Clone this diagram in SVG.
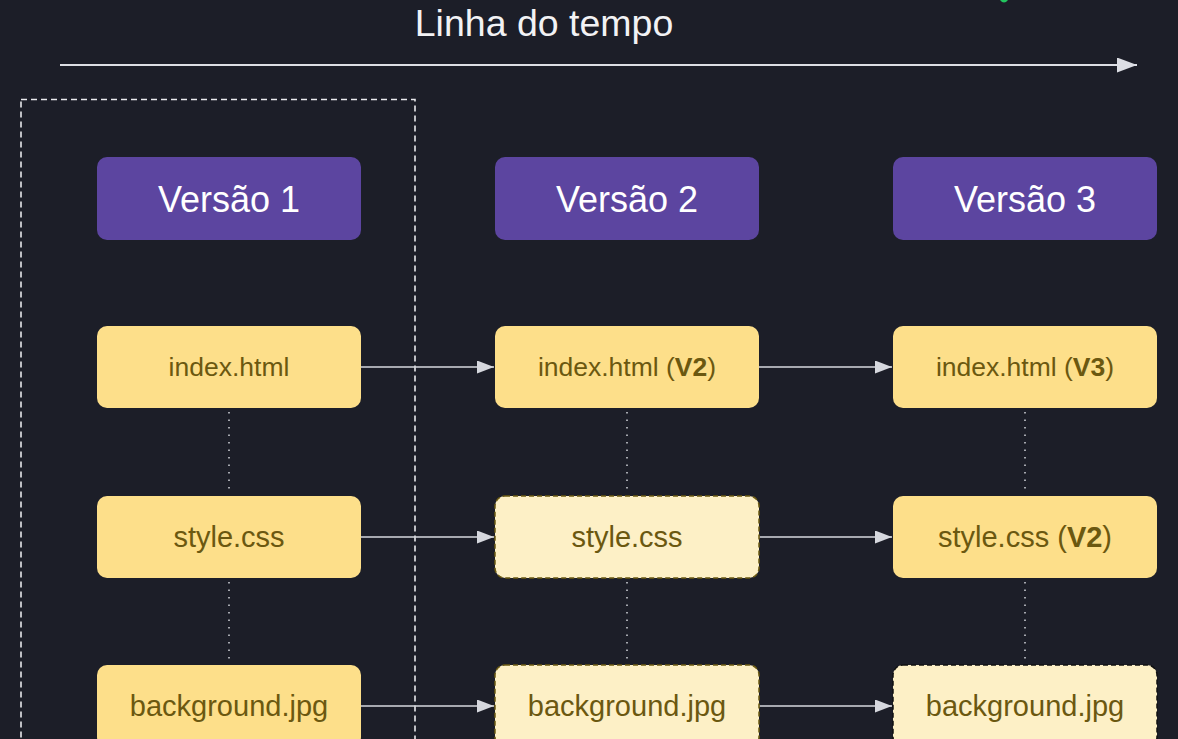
<svg xmlns="http://www.w3.org/2000/svg" width="1178" height="739" viewBox="0 0 1178 739">
<defs>
<marker id="ah" markerWidth="17" markerHeight="13" refX="17" refY="6.5" orient="auto" markerUnits="userSpaceOnUse" viewBox="0 0 17 13">
<path d="M0,0 L17,6.5 L0,13 z" fill="#d6d8de"/>
</marker>
<marker id="ahbig" markerWidth="20" markerHeight="15" refX="20" refY="7.5" orient="auto" markerUnits="userSpaceOnUse" viewBox="0 0 20 15">
<path d="M0,0 L20,7.5 L0,15 z" fill="#dcdee4"/>
</marker>
<style>
.ver{fill:#5c45a0;}
.vt{font-family:"Liberation Sans",Arial,sans-serif;font-size:36px;fill:#ffffff;text-anchor:middle;}
.file{fill:#fddf8a;}
.ghost{fill:#fdf0c6;stroke:#6b5a12;stroke-width:1.5;stroke-dasharray:5 3;}
.ghostk{fill:#fdf0c6;stroke:#111111;stroke-width:1.5;stroke-dasharray:5 3;}
.ft{font-family:"Liberation Sans",Arial,sans-serif;font-size:29px;fill:#6b5810;text-anchor:middle;}
.fts{font-family:"Liberation Sans",Arial,sans-serif;font-size:26.5px;fill:#6b5810;text-anchor:middle;}
.conn{stroke:#d6d8de;stroke-width:1.6;fill:none;marker-end:url(#ah);}
.dot{stroke:#c8cad0;stroke-width:1.6;stroke-dasharray:1.5 6;fill:none;}
</style>
</defs>
<rect x="0" y="0" width="1178" height="739" fill="#1c1e28"/>
<path d="M1000,0 Q1004,5 1008,0 z" fill="#22c55e"/>
<g id="timeline">
<text x="544" y="36" font-family="'Liberation Sans',Arial,sans-serif" font-size="37.5" fill="#f2f2f4" text-anchor="middle">Linha do tempo</text>
<line x1="60" y1="65" x2="1137" y2="65" stroke="#dcdee4" stroke-width="2" marker-end="url(#ahbig)"/>
</g>
<rect id="group-v1" x="21" y="99.5" width="394" height="660" fill="none" stroke="#e8e8ec" stroke-width="1.6" stroke-dasharray="6 4"/>
<g id="connectors">
<line class="dot" x1="229" y1="412" x2="229" y2="494"/>
<line class="dot" x1="229" y1="582" x2="229" y2="663"/>
<line class="dot" x1="627" y1="412" x2="627" y2="494"/>
<line class="dot" x1="627" y1="582" x2="627" y2="663"/>
<line class="dot" x1="1025" y1="412" x2="1025" y2="494"/>
<line class="dot" x1="1025" y1="582" x2="1025" y2="663"/>
<line class="conn" x1="361" y1="367" x2="494" y2="367"/>
<line class="conn" x1="759" y1="367" x2="892" y2="367"/>
<line class="conn" x1="361" y1="537" x2="494" y2="537"/>
<line class="conn" x1="759" y1="537" x2="892" y2="537"/>
<line class="conn" x1="361" y1="706" x2="494" y2="706"/>
<line class="conn" x1="759" y1="706" x2="892" y2="706"/>
</g>
<g id="v1"><rect class="ver" x="97" y="157" width="264" height="83" rx="10"/><text class="vt" x="229" y="212">Versão 1</text></g>
<g id="v2"><rect class="ver" x="495" y="157" width="264" height="83" rx="10"/><text class="vt" x="627" y="212">Versão 2</text></g>
<g id="v3"><rect class="ver" x="893" y="157" width="264" height="83" rx="10"/><text class="vt" x="1025" y="212">Versão 3</text></g>
<g id="v1-index"><rect class="file" x="97" y="326" width="264" height="82" rx="10"/><text class="fts" x="229" y="376">index.html</text></g>
<g id="v1-style"><rect class="file" x="97" y="496" width="264" height="82" rx="10"/><text class="ft" x="229" y="547">style.css</text></g>
<g id="v1-bg"><rect class="file" x="97" y="665" width="264" height="82" rx="10"/><text class="ft" x="229" y="716">background.jpg</text></g>
<g id="v2-index"><rect class="file" x="495" y="326" width="264" height="82" rx="10"/><text class="fts" x="627" y="376">index.html (<tspan font-weight="bold">V2</tspan>)</text></g>
<g id="v2-style"><rect class="ghost" x="495" y="496" width="264" height="82" rx="10"/><text class="ft" x="627" y="547">style.css</text></g>
<g id="v2-bg"><rect class="ghost" x="495" y="665" width="264" height="82" rx="10"/><text class="ft" x="627" y="716">background.jpg</text></g>
<g id="v3-index"><rect class="file" x="893" y="326" width="264" height="82" rx="10"/><text class="fts" x="1025" y="376">index.html (<tspan font-weight="bold">V3</tspan>)</text></g>
<g id="v3-style"><rect class="file" x="893" y="496" width="264" height="82" rx="10"/><text class="ft" x="1025" y="547">style.css (<tspan font-weight="bold">V2</tspan>)</text></g>
<g id="v3-bg"><rect class="ghostk" x="893" y="665" width="264" height="82" rx="10"/><text class="ft" x="1025" y="716">background.jpg</text></g>
</svg>
